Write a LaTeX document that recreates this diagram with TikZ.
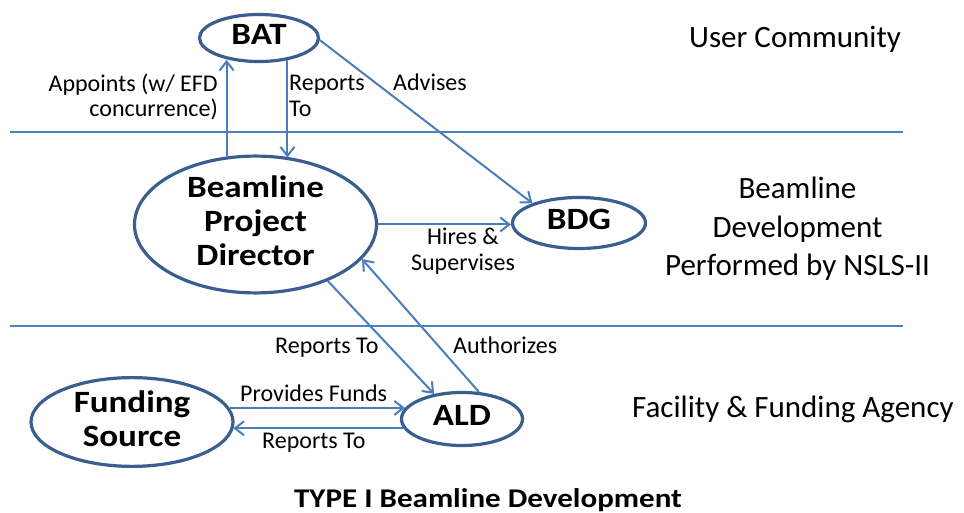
\documentclass[tikz,border=0pt]{standalone}
\usepackage{fontspec}
\setmainfont{Carlito}
\newfontfamily\nodefont[FakeStretch=1.13]{Carlito}
\newfontfamily\titlefont[FakeStretch=1.15]{Carlito}
\usetikzlibrary{shapes.geometric,arrows.meta}
\definecolor{ellc}{HTML}{3A5F8E}
\definecolor{arrc}{HTML}{4A7EBB}
\definecolor{linc}{HTML}{4F81BD}
\begin{document}
\begin{tikzpicture}[x=1pt,y=-1pt,
  ent/.style={ellipse,draw=ellc,line width=3.2pt,inner sep=0pt,align=center,text depth=7pt,
    font=\nodefont\fontsize{31}{34}\selectfont\bfseries},
  arr/.style={draw=arrc,line width=2pt,-{Straight Barb[length=9pt,width=14pt]}},
  lbl/.style={inner sep=0pt,font=\fontsize{24}{25.5}\selectfont},
  region/.style={inner sep=0pt,font=\fontsize{31}{38.5}\selectfont},
  sep/.style={draw=linc,line width=1.2pt}]

\fill[white] (0,0) rectangle (964,513);
\useasboundingbox (0,0) rectangle (964,513);

% separators
\draw[sep] (10,132) -- (903,132);
\draw[sep] (10,326) -- (903,326);

% entities
\node[ent,minimum width=119pt,minimum height=47pt] (bat) at (259,38) {BAT};
\node[ent,minimum width=242pt,minimum height=122pt] (bpd) at (255.5,224.5) {Beamline\\Project\\Director};
\node[ent,minimum width=133pt,minimum height=51pt] (bdg) at (579,223) {BDG};
\node[ent,minimum width=202pt,minimum height=83pt] (fs) at (132,422) {Funding\\Source};
\node[ent,minimum width=121pt,minimum height=53pt] (ald) at (462,419) {ALD};

% connectors
\draw[arr] (bpd.113) -- (bpd.113 |- bat.216);
\draw[arr] (bat.322) -- (bat.322 |- bpd.62);
\draw[arr] (bat.358) -- (bdg.157);
\draw[arr] (bpd.east) -- (bpd.east -| bdg.west);
\draw[arr] (bpd.322) -- (ald.138);
\draw[arr] (ald.58) -- (bpd.342);
\draw[arr] (ald.169 -| fs.8) -- (ald.169);
\draw[arr] (ald.189) -- (ald.189 -| fs.356);

% connector labels
\node[lbl,align=right,anchor=east] (lapp) at (218,97) {Appoints (w/ EFD\\concurrence)};
\node[lbl,align=left,anchor=west] (lrep1) at (289,96) {Reports\\To};
\node[lbl,anchor=base west] (ladv) at (393,91) {Advises};
\node[lbl,align=center] (lhire) at (463,251) {Hires \&\\Supervises};
\node[lbl,anchor=base west] (lrep2) at (275,353) {Reports To};
\node[lbl,anchor=base west] (lauth) at (453,353) {Authorizes};
\node[lbl,anchor=base west] (lprov) at (240,401) {Provides Funds};
\node[lbl,anchor=base west] (lrep3) at (262,448) {Reports To};

% region labels
\node[region,anchor=base west] (ruser) at (689,48) {User Community};
\node[region,align=center] (rbl) at (797.5,229) {Beamline\\Development\\Performed by NSLS-II};
\node[region,anchor=base west] (rfac) at (632,417) {Facility \& Funding Agency};

% title
\node[inner sep=0pt,anchor=base,font=\titlefont\fontsize{27}{29}\selectfont\bfseries] (title) at (488,507) {TYPE I Beamline Development};
\end{tikzpicture}
\end{document}
